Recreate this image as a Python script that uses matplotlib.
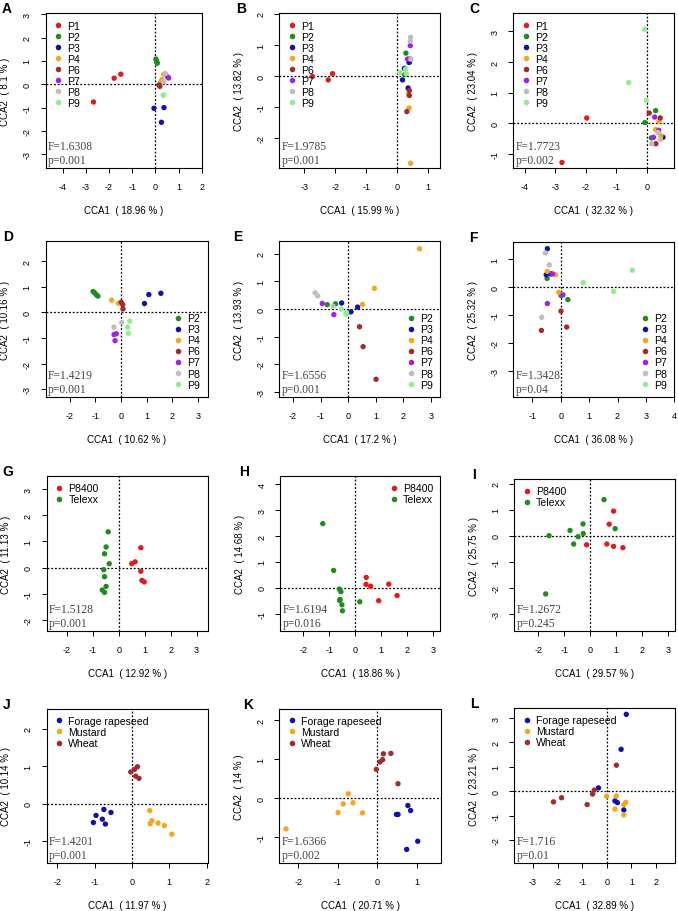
import matplotlib
matplotlib.use("Agg")
import matplotlib.pyplot as plt
from matplotlib.lines import Line2D

plt.rcParams['font.family'] = ['Liberation Sans', 'DejaVu Sans']
plt.rcParams['axes.unicode_minus'] = False

# colours of the groups
col = {"P1": "#E31A1C", "P2": "#1E8C1E", "P3": "#1010B0", "P4": "#F8A51C",
       "P6": "#A52A2A", "P7": "#A020F0", "P8": "#BEBEBE", "P9": "#90EE90",
       "P8400": "#E31A1C", "Telexx": "#1E8C1E",
       "Forage rapeseed": "#1010B0", "Mustard": "#F8A51C", "Wheat": "#A52A2A"}

# ---- data ----
A_pts = {"P1": ([-2.67, -1.78, -1.49], [-0.76, 0.26, 0.43]),
         "P2": ([0.02, 0.05, 0.08, 0.06], [1.08, 1.0, 0.9, 0.95]),
         "P3": ([-0.06, 0.37, 0.26], [-1.03, -1.0, -1.63]),
         "P4": ([0.36, 0.24, 0.28], [0.43, 0.11, 0.2]),
         "P6": ([0.19, 0.16], [-0.09, -0.03]),
         "P7": ([0.52, 0.57], [0.32, 0.27]),
         "P8": ([0.43, 0.36], [0.46, 0.11]),
         "P9": ([0.36, 0.33], [-0.46, -0.47])}
B_pts = {"P1": ([-2.74, -2.23, -2.09], [-0.01, -0.12, 0.08]),
         "P2": ([0.28, 0.40, 0.24], [0.74, 0.46, 0.05]),
         "P3": ([0.23, 0.17, 0.35, 0.38], [0.25, -0.12, -0.38, 0.44]),
         "P4": ([0.36, 0.38, 0.43], [-0.57, -1.02, -2.80]),
         "P6": ([0.39, 0.39, 0.31], [-0.46, -0.62, -1.14]),
         "P7": ([0.42, 0.33, 0.40], [0.98, 0.55, 0.55]),
         "P8": ([0.43, 0.42, 0.44], [1.25, 1.13, 0.55]),
         "P9": ([0.08, 0.29, 0.27], [0.11, 0.08, 0.23])}
C_pts = {"P1": ([-1.97, -2.78], [0.18, -1.27]),
         "P2": ([0.28, -0.07, 0.14], [0.42, 0.03, -0.47]),
         "P3": ([0.52], [-0.45]),
         "P4": ([0.39, 0.28, 0.45], [0.07, -0.20, -0.40]),
         "P6": ([0.07, 0.43, 0.29], [0.34, 0.18, -0.66]),
         "P7": ([0.25, 0.38, 0.21], [0.21, -0.22, -0.45]),
         "P8": ([0.15, 0.44, 0.35], [-0.66, -0.52, -0.29]),
         "P9": ([-0.08, -0.60, -0.02], [3.07, 1.33, 0.75])}
D_pts = {"P2": ([-1.09, -1.03, -0.96, -0.90], [0.82, 0.77, 0.69, 0.64]),
         "P3": ([1.56, 1.09, 0.92], [0.75, 0.70, 0.35]),
         "P4": ([-0.36, -0.10], [0.48, 0.36]),
         "P6": ([0.01, 0.07, 0.08], [0.40, 0.31, 0.14]),
         "P7": ([-0.18, -0.27, -0.23], [-0.83, -0.86, -1.10]),
         "P8": ([-0.27, 0.03], [-0.57, -0.39]),
         "P9": ([0.34, 0.26, 0.29], [-0.34, -0.57, -0.81])}
E_pts = {"P2": ([-0.76, -0.46], [0.16, 0.19]),
         "P3": ([-0.24, 0.10, 0.34], [0.22, -0.10, 0.07]),
         "P4": ([2.59, 0.95, 0.52], [2.18, 0.75, 0.17]),
         "P6": ([0.41, 0.54, 1.01], [-0.64, -1.36, -2.54]),
         "P7": ([-0.94, -0.52], [0.20, -0.20]),
         "P8": ([-1.20, -1.11, -0.55], [0.59, 0.48, 0.10]),
         "P9": ([-0.25, -0.06, -0.08], [0.0, -0.12, -0.19])}
F_pts = {"P2": ([-0.48, 0.25, 0.01], [0.32, -0.44, -0.29]),
         "P3": ([-0.47, -0.51, -0.35], [1.38, 0.45, 0.48]),
         "P4": ([-0.47, -0.18, -0.07], [0.57, 0.45, -0.18]),
         "P6": ([0.01, 0.21, -0.68], [-0.85, -1.42, -1.54]),
         "P7": ([-0.29, 0.08, -0.47], [0.48, -0.27, -0.58]),
         "P8": ([-0.54, -0.40, -0.67], [1.23, 0.80, -1.07]),
         "P9": ([0.79, 1.86, 2.52], [0.17, -0.15, 0.61])}
G_pts = {"P8400": ([0.85, 0.50, 0.63, 0.85, 0.89, 0.98],
                   [0.76, 0.15, 0.22, -0.14, -0.49, -0.55]),
         "Telexx": ([-0.41, -0.49, -0.55, -0.37, -0.58, -0.55, -0.49, -0.64, -0.55],
                    [1.37, 0.79, 0.53, 0.15, -0.08, -0.35, -0.72, -0.86, -0.95])}
H_pts = {"P8400": ([0.43, 0.42, 0.60, 1.30, 1.62, 0.91],
                   [0.40, 0.13, 0.06, 0.14, -0.30, -0.50]),
         "Telexx": ([-1.25, -0.83, -0.61, -0.55, -0.58, -0.60, -0.51, -0.49, 0.18],
                    [2.48, 0.67, -0.05, -0.15, -0.45, -0.49, -0.66, -0.89, -0.54])}
I_pts = {"P8400": ([0.90, 0.73, 0.64, 0.90, 1.26, -0.14],
                   [0.95, 0.45, -0.31, -0.40, -0.45, -0.34]),
         "Telexx": ([0.53, 0.96, -0.28, -0.27, -0.78, -0.47, -0.64, -1.59, -1.72],
                    [1.39, 0.28, 0.46, 0.09, 0.21, -0.03, -0.31, 0.01, -2.22])}
J_pts = {"Forage rapeseed": ([-0.75, -0.56, -0.96, -0.79, -1.03, -0.71],
                             [-0.15, -0.23, -0.31, -0.41, -0.50, -0.54]),
         "Mustard": ([0.48, 0.54, 0.49, 0.70, 0.87, 1.07],
                     [-0.18, -0.45, -0.53, -0.51, -0.58, -0.81]),
         "Wheat": ([-0.03, 0.07, 0.15, 0.10, 0.19], [0.85, 0.92, 0.99, 0.74, 0.68])}
K_pts = {"Forage rapeseed": ([0.78, 0.85, 0.49, 0.53, 1.03, 0.75],
                             [-0.19, -0.32, -0.42, -0.42, -1.11, -1.32]),
         "Mustard": ([-0.73, -0.86, -0.61, -0.99, -0.37, -2.31],
                     [0.11, -0.15, -0.12, -0.37, -0.38, -0.79]),
         "Wheat": ([-0.02, 0.07, 0.14, 0.16, 0.35, 0.53],
                   [0.74, 0.93, 0.99, 1.14, 1.15, 0.37])}
L_pts = {"Forage rapeseed": ([0.79, 0.58, -0.34, 0.33, 0.43, 0.69],
                             [3.15, 1.72, 0.14, -0.39, -0.46, -0.76]),
         "Mustard": ([-0.01, 0.38, 0.77, 0.69, 0.33, 0.69],
                     [-0.20, -0.19, -0.45, -0.54, -0.72, -0.96]),
         "Wheat": ([0.39, -0.51, -0.58, -1.84, -2.17, -0.80],
                   [1.07, 0.05, -0.11, -0.26, -0.43, -0.54])}

letters = ["A", "B", "C", "D", "E", "F", "G", "H", "I", "J", "K", "L"]
points = [A_pts, B_pts, C_pts, D_pts, E_pts, F_pts, G_pts, H_pts, I_pts, J_pts, K_pts, L_pts]
cca1 = ["18.96", "15.99", "32.32", "10.62", "17.2", "36.08",
        "12.92", "18.86", "29.57", "11.97", "20.71", "32.89"]
cca2 = ["8.1", "13.82", "23.04", "10.16", "13.93", "25.32",
        "11.13", "14.68", "25.75", "10.14", "14", "23.21"]
F_vals = ["1.6308", "1.9785", "1.7723", "1.4219", "1.6556", "1.3428",
          "1.5128", "1.6194", "1.2672", "1.4201", "1.6366", "1.716"]
p_vals = ["0.001", "0.001", "0.002", "0.001", "0.001", "0.04",
          "0.001", "0.016", "0.245", "0.001", "0.002", "0.01"]

# ---- layout (pixels: left, top, right, bottom) ----
boxes = [(45.7, 14.3, 202, 169.3), (279.3, 14.3, 440.3, 169.3), (513.3, 14.3, 674.3, 169.3),
         (45.7, 242.3, 207.7, 398), (279.3, 242.3, 440.3, 398), (513.3, 243, 674.3, 398),
         (46.7, 477, 208.3, 632), (280.3, 477, 440.3, 632), (514.3, 480, 675, 632),
         (46.7, 709.7, 207.7, 864), (279.3, 709.7, 441, 864), (514.3, 709, 675, 864)]
xlims = [(-4.73, 2.01), (-3.81, 1.39), (-4.37, 0.89), (-2.94, 3.39), (-2.50, 3.34), (-1.67, 4.0),
         (-2.78, 3.45), (-2.89, 3.29), (-2.93, 3.27), (-2.28, 2.03), (-2.48, 1.62), (-3.76, 2.77)]
ylims = [(-3.6, 3.04), (-2.96, 2.02), (-1.46, 3.59), (-3.30, 2.78), (-3.18, 2.45), (-3.92, 1.62),
         (-2.43, 3.51), (-1.67, 4.32), (-3.64, 2.18), (-1.58, 2.54), (-1.67, 2.30), (-2.93, 3.41)]
xticks = [range(-4, 3), range(-3, 2), range(-4, 1), range(-2, 4), range(-2, 4), range(-1, 5),
          range(-2, 4), range(-2, 4), range(-2, 4), range(-2, 3), range(-2, 2), range(-3, 3)]
yticks = [range(-3, 4), range(-2, 3), range(-1, 4), range(-3, 3), range(-3, 3), range(-3, 2),
          range(-2, 4), range(-1, 5), range(-3, 3), range(-1, 3), range(-1, 3), range(-2, 4)]
leg_loc = ["upper left"] * 3 + ["lower right"] * 3 + ["upper left", "upper right", "upper left"] + ["upper left"] * 3
letter_x = [2, 236, 469, 3, 233, 469, 2, 239, 472, 3, 243, 470]

W, H = 678, 912
fig = plt.figure(figsize=(W / 100, H / 100), dpi=100)

for i in range(12):
    l, t, r, b = boxes[i]
    ax = fig.add_axes([l / W, 1 - b / H, (r - l) / W, (b - t) / H])
    ax.axhline(0, color='black', lw=0.9, ls=(0, (1.5, 1.5)), zorder=1)
    ax.axvline(0, color='black', lw=0.9, ls=(0, (1.5, 1.5)), zorder=1)
    handles = []
    for g, (xs, ys) in points[i].items():
        ax.scatter(xs, ys, s=15, color=col[g], edgecolors='none', zorder=3)
        handles.append(Line2D([], [], ls='none', marker='o', ms=4, color=col[g],
                              markeredgewidth=0, label=g))
    ax.set_xlim(*xlims[i])
    ax.set_ylim(*ylims[i])
    ax.set_xticks(list(xticks[i]))
    ax.set_yticks(list(yticks[i]))
    ax.set_xticklabels([str(v) for v in xticks[i]])
    ax.set_yticklabels([str(v) for v in yticks[i]], rotation=90, va='center')
    ax.tick_params(direction='out', length=3.5, width=0.7, labelsize=6.5, pad=6.5)
    for s in ax.spines.values():
        s.set_linewidth(0.8)
    ax.set_xlabel("CCA1  ( %s %% )" % cca1[i], fontsize=7, labelpad=10)
    ax.set_ylabel("CCA2  ( %s %% )" % cca2[i], fontsize=7, labelpad=9)
    ax.legend(handles=handles, loc=leg_loc[i], frameon=False, fontsize=7.6,
              handlelength=1.0, handletextpad=0.35, labelspacing=0.1,
              borderaxespad=0.35, borderpad=0.35)
    ax.text(0.015, 0.015, "F=%s\np=%s" % (F_vals[i], p_vals[i]), transform=ax.transAxes,
            ha='left', va='bottom', fontsize=8.4, color='#444444',
            family=['Liberation Serif', 'DejaVu Serif'], linespacing=1.2)
    fig.text(letter_x[i] / W, 1 - (t - 12) / H, letters[i], fontsize=10,
             fontweight='bold', ha='left', va='top')

fig.savefig("out.png", dpi=100)
